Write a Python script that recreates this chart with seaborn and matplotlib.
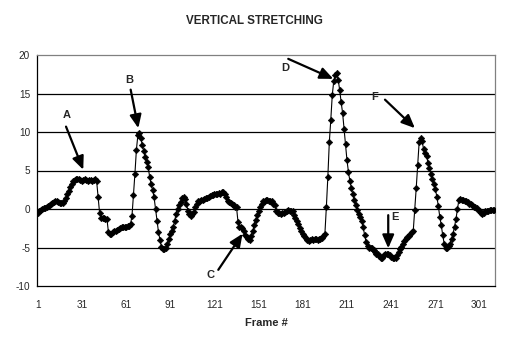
import matplotlib
matplotlib.use("Agg")
import matplotlib.pyplot as plt
import pandas as pd
import seaborn as sns

# Vertical stretching per frame
stretch = [
    -0.5, -0.3, -0.1, 0.0, 0.1, 0.1, 0.2, 0.4, 0.5, 0.6,
    0.8, 0.9, 1.0, 1.0, 0.9, 0.8, 0.8, 0.8, 1.0, 1.4,
    1.9, 2.4, 2.9, 3.3, 3.6, 3.8, 3.9, 3.9, 3.9, 3.8,
    3.7, 3.8, 3.9, 3.8, 3.7, 3.8, 3.8, 3.7, 3.8, 3.9,
    3.6, 1.5, -0.5, -1.2, -1.2, -1.2, -1.3, -1.3, -3.0, -3.3,
    -3.2, -3.0, -2.9, -2.8, -2.7, -2.6, -2.5, -2.4, -2.4, -2.3,
    -2.3, -2.2, -2.2, -2.0, -0.9, 1.8, 4.6, 7.7, 9.6, 9.9,
    9.2, 8.3, 7.5, 6.8, 6.1, 5.4, 4.2, 3.2, 2.5, 1.5,
    0.0, -1.5, -3.0, -4.0, -4.9, -5.2, -5.2, -5.0, -4.6, -3.9,
    -3.3, -2.8, -2.4, -1.5, -0.6, 0.0, 0.5, 0.9, 1.4, 1.6,
    1.3, 0.6, -0.2, -0.7, -0.9, -0.7, -0.4, 0.2, 0.7, 1.0,
    1.1, 1.2, 1.2, 1.3, 1.4, 1.4, 1.5, 1.7, 1.8, 1.8,
    1.9, 2.0, 2.0, 2.1, 2.0, 2.2, 2.2, 1.9, 1.5, 1.1,
    0.9, 0.8, 0.7, 0.5, 0.3, 0.2, -1.7, -2.3, -2.4, -2.5,
    -2.9, -3.4, -3.7, -3.9, -4.0, -3.5, -2.9, -2.1, -1.4, -0.8,
    -0.2, 0.3, 0.7, 1.0, 1.1, 1.2, 1.2, 1.1, 1.1, 1.0,
    0.7, 0.5, -0.2, -0.5, -0.5, -0.6, -0.5, -0.5, -0.4, -0.2,
    -0.1, -0.2, -0.3, -0.3, -0.8, -1.2, -1.6, -2.0, -2.5, -2.9,
    -3.2, -3.5, -3.8, -4.0, -4.1, -4.0, -3.9, -4.0, -3.9, -3.9,
    -4.0, -3.9, -3.9, -3.8, -3.5, -3.2, 0.3, 4.2, 8.7, 11.6,
    14.8, 16.6, 17.4, 17.6, 16.8, 15.5, 13.9, 12.5, 10.4, 8.4,
    6.3, 4.8, 3.6, 2.7, 1.9, 1.2, 0.5, -0.1, -0.6, -1.0,
    -1.6, -2.4, -3.4, -4.3, -4.8, -5.0, -5.0, -5.1, -5.3, -5.6,
    -5.8, -5.9, -6.1, -6.3, -6.3, -6.0, -5.9, -5.8, -5.8, -6.0,
    -6.2, -6.3, -6.4, -6.3, -6.0, -5.6, -5.2, -4.9, -4.5, -4.2,
    -3.9, -3.7, -3.5, -3.3, -3.0, -2.8, -0.1, 2.7, 5.7, 8.7,
    9.2, 8.8, 7.8, 7.3, 6.9, 6.0, 5.3, 4.5, 3.9, 3.2,
    2.6, 1.6, 0.4, -1.0, -2.1, -3.4, -4.5, -5.0, -5.1, -4.8,
    -4.5, -3.9, -3.2, -2.3, -1.3, 0.0, 1.2, 1.3, 1.2, 1.2,
    1.1, 1.0, 0.9, 0.7, 0.6, 0.5, 0.3, 0.2, 0.1, -0.1,
    -0.3, -0.5, -0.6, -0.5, -0.3, -0.2, -0.2, -0.1, -0.1, -0.1,
    -0.1,
]
frames = list(range(1, len(stretch) + 1))
x_tick_labels = [1, 31, 61, 91, 121, 151, 181, 211, 241, 271, 301]
y_tick_labels = [-10, -5, 0, 5, 10, 15, 20]
event_labels = ["A", "B", "C", "D", "E", "F"]

sns.set_style("white")
plt.rcParams["font.family"] = ["Liberation Sans", "DejaVu Sans"]

df = pd.DataFrame({"Frame #": frames, "stretch": stretch})

fig = plt.figure(figsize=(5.17, 3.42), dpi=100)
ax = fig.add_axes([37 / 517, 56 / 342, 458 / 517, 231 / 342])

# horizontal grid lines
for yv in y_tick_labels[1:-1]:
    ax.axhline(yv, color="black", lw=0.9, zorder=1)

sns.lineplot(data=df, x="Frame #", y="stretch", ax=ax, color="black",
             lw=0.8, marker="D", markersize=3.3, markeredgewidth=0.4,
             markeredgecolor="black", zorder=3)

ax.set_xlim(0.5, len(stretch) + 0.5)
ax.set_ylim(-10, 20)
ax.set_yticks(y_tick_labels)
ax.set_yticklabels([str(v) for v in y_tick_labels], fontsize=7.2)
ax.set_xticks(x_tick_labels)
ax.set_xticklabels([str(v) for v in x_tick_labels], fontsize=7.2)
ax.set_xticks([0.5 + 10 * k for k in range(32)], minor=True)
ax.tick_params(axis="x", which="major", length=0, pad=10)
ax.tick_params(axis="x", which="minor", length=3.5, width=0.8, color="black", direction="out")
ax.tick_params(axis="y", which="major", length=3, width=0.8, color="black", direction="out", pad=2)
ax.set_ylabel("")
ax.set_xlabel("Frame #", fontsize=8, fontweight="bold", labelpad=6)

for side in ["left", "bottom"]:
    ax.spines[side].set_color("black")
    ax.spines[side].set_linewidth(0.9)
for side in ["top", "right"]:
    ax.spines[side].set_color("#808080")
    ax.spines[side].set_linewidth(0.9)

fig.text(254 / 517, 1 - 20.5 / 342, "VERTICAL STRETCHING", ha="center", va="center",
         fontsize=8.4, fontweight="bold")

# event markers: label position, arrow tail, arrow tip (data coords)
callouts = {
    "A": ((20.7, 12.2), (20.2, 10.7), (31.9, 5.1)),
    "B": ((63.2, 16.8), (64.1, 15.5), (69.3, 10.5)),
    "C": ((118.0, -8.6), (123.6, -7.9), (140.1, -3.2)),
    "D": ((168.9, 18.3), (171.1, 19.5), (201.7, 16.9)),
    "E": ((243.5, -1.0), (239.0, -0.8), (239.0, -5.1)),
    "F": ((229.5, 14.5), (236.8, 14.2), (257.1, 10.5)),
}
for name in event_labels:
    (lx, ly), tail, tip = callouts[name]
    ax.text(lx, ly, name, ha="center", va="center", fontsize=8, fontweight="bold", zorder=5)
    ax.annotate("", xy=tip, xytext=tail,
                arrowprops=dict(arrowstyle="-|>,head_length=0.8,head_width=0.35",
                                color="black", lw=1.6, shrinkA=0, shrinkB=0),
                zorder=5)

fig.savefig("out.png", dpi=100)
